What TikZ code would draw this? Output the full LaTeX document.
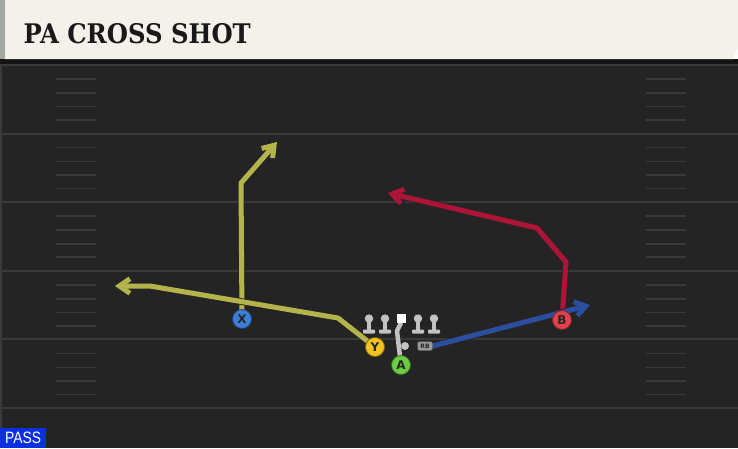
\documentclass[tikz,border=0pt]{standalone}
\usepackage{fontspec}
\setmainfont{DejaVu Sans}
\newfontfamily\titlefont{DejaVu Serif}
\newfontfamily\passfont{Liberation Sans}
\usetikzlibrary{arrows.meta}

\definecolor{fieldbg}{HTML}{242424}
\definecolor{fieldline}{HTML}{3A3A3A}
\definecolor{headbg}{HTML}{F4F1EA}
\definecolor{headedge}{HTML}{A5A7A2}
\definecolor{routeyellow}{HTML}{B4B44C}
\definecolor{routered}{HTML}{AE1437}
\definecolor{routeblue}{HTML}{2B4E9E}
\definecolor{blockgray}{HTML}{C2C2C2}
\definecolor{xblue}{HTML}{3C7FD8}
\definecolor{yyellow}{HTML}{F2C31E}
\definecolor{bred}{HTML}{E2414B}
\definecolor{agreen}{HTML}{6CCD45}
\definecolor{passblue}{HTML}{0C2FE0}

\pgfdeclarelayer{field}
\pgfdeclarelayer{routes}
\pgfsetlayers{field,routes,main}

\def\lw{5pt}

\begin{document}
\begin{tikzpicture}[x=1pt, y=-1pt,
    route/.style={line width=\lw, line join=round,
      -{Straight Barb[length=8pt 0.5, width=11pt 0.7]},
      preaction={draw=black!85, line width=6.6pt}},
    player/.style={circle, draw=#1!55!black, fill=#1, line width=0.8pt,
      minimum size=19pt, inner sep=0pt, text=black!85,
      font=\bfseries\fontsize{12}{12}\selectfont},
    hashmark/.style={fieldline, line width=1.6pt},
    yardline/.style={fieldline, line width=2pt}]
  \useasboundingbox (0,0) rectangle (738,448);

  \begin{pgfonlayer}{field}
    % field and header
    \fill[fieldbg] (0,59) rectangle (738,448);
    \fill[fieldline] (0,64) rectangle (2,448);
    \fill[black!92] (0,59) rectangle (738,64);
    \fill[headbg] (5,0) -- (738,0) -- (738,48) -- (733,59) -- (5,59) -- cycle;
    \fill[headedge] (0,0) rectangle (5,59);
    \foreach \k in {0,...,5}
      \draw[yardline] (2,65+68.6*\k) -- (738,65+68.6*\k);
    \foreach \k in {0,...,4}
      \foreach \h in {14,28,41.5,55} {
        \draw[hashmark] (56,65+68.6*\k+\h) -- (96,65+68.6*\k+\h);
        \draw[hashmark] (646,65+68.6*\k+\h) -- (686,65+68.6*\k+\h);
      }
  \end{pgfonlayer}

  \node[anchor=base west, text=black!90, font=\titlefont\bfseries\fontsize{27}{27}\selectfont]
    (title) at (20,43) {\scalebox{0.9}[1]{PA CROSS SHOT}};
  \node[anchor=south west, fill=passblue, text=white, minimum width=46pt, minimum height=20pt,
    inner sep=0pt, font=\passfont\fontsize{16.5}{16.5}\selectfont]
    (pass) at (0,448) {\scalebox{0.84}[1]{PASS}};

  % offensive line
  \foreach \x in {369,385,418,434} {
    \fill[blockgray] (\x-1.8,318) rectangle (\x+1.8,331);
    \fill[blockgray, rounded corners=0.8pt] (\x-6,329.5) rectangle (\x+6,333.5);
    \fill[blockgray] (\x,318.5) circle (4.2);
  }
  \node[fill=white, minimum size=9pt, inner sep=0pt] (ctr) at (401,318) {};
  \node[circle, fill=blockgray, minimum size=8pt, inner sep=0pt] (qb) at (405,346) {};
  \coordinate (qbturn) at (397,331);

  % skill players
  \node[player=xblue] (X) at (242,319) {X};
  \node[player=yyellow] (Y) at (375,347) {Y};
  \node[player=bred] (B) at (562,320) {B};
  \node[player=agreen] (A) at (401,365) {A};
  \node[fill=black!40, draw=black!70, rounded corners=2pt, minimum width=15pt, minimum height=9pt,
    inner sep=0pt, text=black!85, font=\bfseries\fontsize{6}{6}\selectfont] (rb) at (425,346) {RB};

  \coordinate (xbreak) at (241,183);
  \coordinate (xend) at (277,142);
  \coordinate (ybreak) at (338,318);
  \coordinate (yflat) at (150,286);
  \coordinate (yend) at (115,286);
  \coordinate (bstem) at (566,262);
  \coordinate (bbreak) at (537,228);
  \coordinate (bend) at (388,193);
  \coordinate (rbend) at (590,305);

  \begin{pgfonlayer}{routes}
    \draw[blockgray, line width=4.5pt, line join=round] (ctr.south) -- (qbturn) -- (A.center);
    \draw[route, routeyellow] (X.center) -- (xbreak) -- (xend);
    \draw[route, routeyellow] (Y.center) -- (ybreak) -- (yflat) -- (yend);
    \draw[route, routered] (B.center) -- (bstem) -- (bbreak) -- (bend);
    \draw[route, routeblue] (rb.east) -- (rbend);
  \end{pgfonlayer}
\end{tikzpicture}
\end{document}
